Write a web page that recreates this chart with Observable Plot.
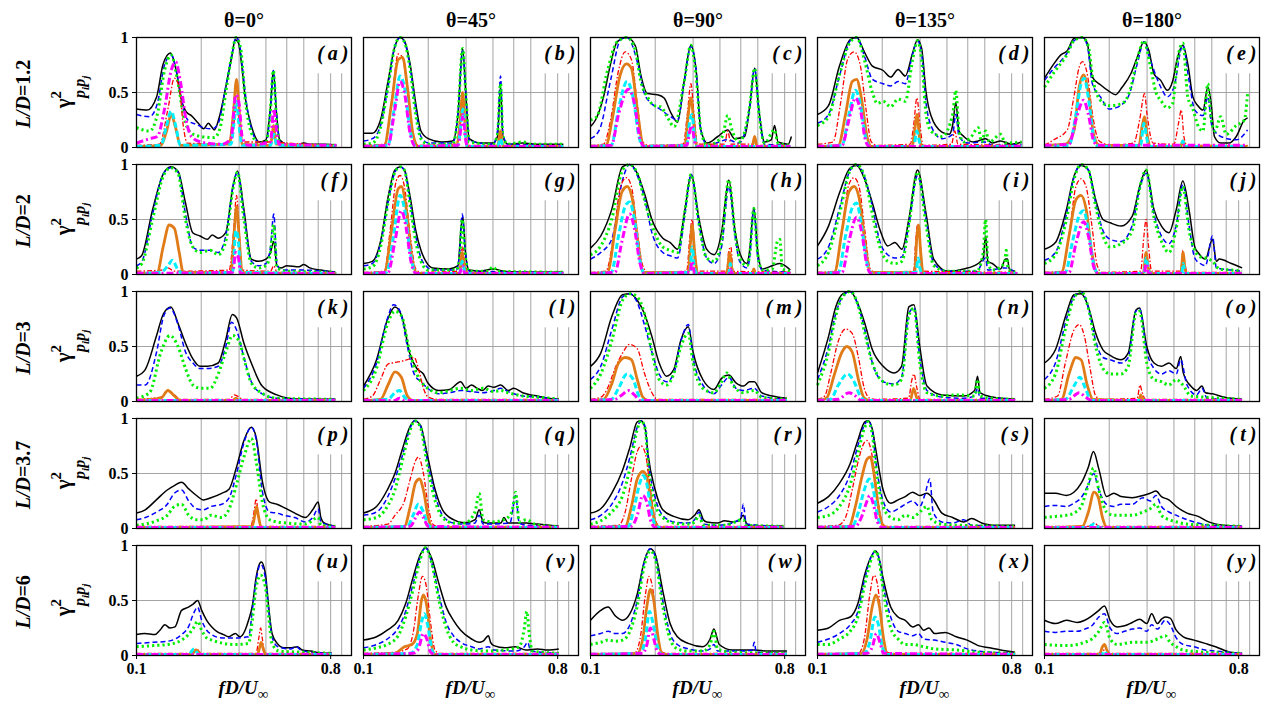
<!DOCTYPE html>
<html><head><meta charset="utf-8">
<script src="https://cdn.jsdelivr.net/npm/d3@7"></script>
<script src="https://cdn.jsdelivr.net/npm/@observablehq/plot@0.6"></script>
<style>
html,body{margin:0;padding:0;background:#fff;}
#chart{width:1264px;height:710px;}
#chart svg text, #chart svg tspan{font-family:"Liberation Serif","Times New Roman",serif !important;font-weight:bold;}
</style></head><body><div id="chart"></div>
<script>
// ---------- categories / labels ----------
const thetas = ["0", "45", "90", "135", "180"];
const ratios = ["1.2", "2", "3", "3.7", "6"];
const panelLetters = ["a","b","c","d","e","f","g","h","i","j","k","l","m","n","o","p","q","r","s","t","u","v","w","x","y"];
const xTicks = [0.1, 0.8];
const yTicks = [0, 0.5, 1];
const yTickLabels = ["0", "0.5", "1"];
const gridFull = [0.2, 0.3, 0.4, 0.5, 0.6];
const gridShort = [0.7, 0.8, 0.9];

// ---------- series values: one flat [f, γ², f, γ², ...] list per panel (a..y) ----------
const black = [
 [0.1,.35,.112,.34,.124,.46,.133,.76,.144,.86,.153,.70,.162,.43,.171,.32,.18,.29,.194,.22,.205,.17,.216,.22,.223,.19,.23,.16,.243,.28,.262,.58,.277,.82,.288,.98,.298,.95,.308,.76,.32,.46,.343,.19,.374,.05,.40,.07,.42,.37,.433,.70,.448,.31,.463,.07,.5,.03,.55,.02,.6,.04,.65,.03,.75,.03,.85,.02],
 [0.1,.13,.11,.13,.12,.25,.13,.60,.14,.92,.148,1.0,.155,.97,.165,.75,.175,.40,.185,.15,.2,.08,.23,.05,.26,.06,.275,.30,.289,.90,.30,.45,.31,.08,.35,.04,.40,.04,.42,.10,.434,.55,.445,.10,.47,.03,.55,.04,.65,.03,.75,.03,.85,.03],
 [0.1,.19,.1055,.25,.115,.46,.124,.76,.133,.96,.148,1.0,.162,.92,.171,.67,.184,.49,.205,.48,.22,.45,.236,.32,.254,.23,.273,.61,.293,.93,.31,.70,.326,.16,.35,.04,.391,.10,.435,.16,.468,.08,.521,.10,.55,.37,.58,.72,.605,.37,.645,.05,.693,.07,.718,.20,.745,.05,.83,.03,.86,.10],
 [0.1,.30,.1125,.38,.1265,.74,.142,.98,.152,1.0,.166,.86,.18,.74,.202,.70,.219,.64,.237,.71,.256,.65,.277,.86,.292,.98,.305,.90,.32,.50,.337,.29,.379,.14,.41,.12,.425,.20,.44,.41,.455,.15,.479,.10,.53,.05,.559,.06,.605,.08,.65,.04,.71,.06,.8,.03,.89,.05],
 [0.1,.63,.1105,.76,.1188,.84,.1276,.88,.137,.99,.15,1.0,.158,.95,.167,.64,.182,.57,.2,.51,.214,.48,.23,.55,.252,.67,.27,.82,.29,.96,.306,.88,.323,.67,.347,.61,.373,.52,.394,.60,.416,.82,.44,.93,.464,.76,.49,.46,.517,.38,.546,.34,.575,.55,.596,.40,.617,.10,.66,.04,.72,.04,.78,.10,.85,.25,.88,.27],
 [0.1,.14,.1056,.17,.1188,.59,.1336,.92,.1446,.98,.156,.94,.169,.65,.1826,.38,.1975,.35,.2137,.32,.225,.36,.24,.33,.26,.38,.281,.80,.295,.94,.316,.59,.342,.14,.37,.12,.40,.14,.42,.20,.435,.30,.45,.08,.47,.06,.5,.08,.57,.07,.6,.09,.64,.06,.72,.04,.84,.02],
 [0.1,.10,.11,.12,.12,.30,.13,.70,.14,.95,.148,.98,.155,.95,.165,.70,.175,.40,.185,.22,.195,.12,.21,.06,.25,.05,.275,.08,.285,.45,.29,.52,.298,.20,.31,.04,.35,.03,.40,.05,.45,.03,.55,.02,.85,.02],
 [0.1,.24,.1116,.35,.1255,.59,.141,.98,.152,1.0,.165,.92,.178,.74,.193,.50,.217,.33,.235,.29,.254,.23,.275,.59,.294,.91,.32,.50,.347,.23,.376,.18,.407,.38,.44,.86,.47,.40,.494,.20,.535,.10,.55,.22,.575,.61,.60,.20,.63,.05,.70,.08,.76,.10,.85,.04],
 [0.1,.26,.1125,.44,.1265,.74,.142,.97,.152,.99,.166,.86,.18,.65,.195,.41,.212,.26,.229,.29,.247,.23,.266,.50,.292,.95,.32,.55,.347,.14,.404,.03,.479,.05,.559,.10,.59,.15,.605,.35,.62,.12,.65,.10,.71,.05,.75,.14,.765,.14,.78,.05,.83,.03],
 [0.1,.23,.1124,.29,.1265,.59,.137,.89,.148,.99,.16,.95,.173,.68,.187,.50,.202,.47,.227,.44,.256,.53,.277,.80,.297,.95,.323,.59,.35,.44,.379,.38,.41,.59,.44,.85,.47,.59,.5,.25,.518,.20,.56,.14,.605,.32,.63,.12,.65,.14,.74,.10,.83,.06],
 [0.1,.23,.1098,.29,.1236,.59,.1336,.80,.1446,.86,.156,.71,.169,.53,.1826,.39,.1975,.32,.2137,.32,.24,.35,.26,.56,.279,.79,.292,.76,.316,.53,.342,.35,.384,.14,.45,.06,.505,.03,.61,.02,.84,.02],
 [0.1,.14,.115,.38,.129,.74,.14,.86,.151,.77,.164,.44,.177,.30,.19,.25,.199,.17,.224,.10,.252,.11,.283,.18,.30,.12,.318,.15,.338,.12,.358,.10,.38,.14,.404,.13,.435,.15,.471,.10,.50,.12,.55,.08,.60,.06,.644,.05,.72,.03,.81,.02],
 [0.1,.32,.1116,.44,.1255,.77,.141,.97,.1526,.98,.165,.92,.178,.80,.193,.59,.2086,.35,.2254,.23,.2437,.29,.2634,.56,.285,.68,.30,.45,.333,.20,.375,.11,.407,.21,.44,.24,.475,.17,.514,.14,.55,.18,.578,.18,.625,.08,.70,.05,.82,.03],
 [0.1,.26,.1125,.59,.1216,.86,.1315,.98,.142,1.0,.154,.89,.166,.71,.18,.47,.202,.32,.227,.26,.246,.32,.266,.86,.281,.88,.299,.50,.323,.14,.379,.06,.479,.05,.538,.10,.555,.23,.57,.08,.65,.04,.83,.02],
 [0.1,.35,.1124,.47,.1265,.80,.137,.97,.148,.98,.16,.86,.173,.62,.187,.47,.202,.42,.227,.38,.245,.44,.266,.83,.277,.85,.299,.50,.323,.35,.35,.32,.379,.35,.41,.30,.43,.41,.442,.26,.479,.14,.51,.10,.54,.14,.56,.08,.605,.07,.68,.04,.83,.02],
 [0.1,.14,.1098,.17,.1236,.26,.139,.35,.15,.39,.162,.42,.175,.36,.19,.30,.205,.26,.222,.28,.249,.32,.27,.36,.292,.56,.316,.80,.342,.92,.361,.82,.384,.44,.416,.24,.45,.22,.486,.19,.545,.14,.61,.10,.66,.17,.70,.24,.72,.10,.746,.05,.84,.02],
 [0.1,.14,.115,.20,.129,.35,.14,.50,.151,.71,.164,.92,.1727,.98,.184,.94,.199,.65,.2156,.35,.2331,.17,.262,.08,.295,.05,.331,.08,.345,.17,.36,.06,.373,.05,.436,.05,.45,.10,.47,.05,.51,.05,.57,.05,.644,.04,.81,.02],
 [0.1,.14,.1116,.18,.1255,.32,.141,.53,.1526,.74,.165,.97,.172,.98,.18,.90,.185,.68,.2,.35,.2168,.17,.2437,.11,.2846,.08,.305,.12,.3197,.17,.335,.08,.347,.06,.39,.05,.42,.07,.456,.06,.49,.07,.514,.12,.53,.05,.555,.02,.79,.02],
 [0.1,.23,.1125,.29,.1265,.41,.142,.59,.154,.80,.166,.97,.172,.98,.18,.90,.187,.71,.202,.35,.219,.23,.237,.26,.256,.29,.277,.33,.299,.30,.323,.32,.335,.30,.35,.25,.379,.14,.425,.10,.479,.06,.52,.09,.58,.05,.65,.03,.83,.03],
 [0.1,.32,.1124,.32,.1265,.30,.137,.33,.148,.41,.16,.56,.169,.70,.179,.54,.1945,.29,.21,.32,.227,.29,.256,.28,.287,.30,.31,.32,.33,.34,.35,.29,.379,.26,.41,.20,.46,.14,.518,.11,.58,.06,.68,.03,.83,.02],
 [0.1,.19,.1093,.20,.1218,.19,.1285,.23,.1355,.28,.143,.25,.151,.26,.162,.41,.1744,.44,.184,.47,.1925,.50,.201,.41,.212,.32,.224,.26,.236,.22,.254,.19,.268,.17,.288,.20,.303,.17,.32,.23,.332,.32,.347,.47,.36,.71,.375,.84,.381,.85,.398,.74,.412,.44,.427,.20,.451,.11,.485,.07,.52,.07,.56,.08,.59,.05,.645,.04,.73,.02,.81,.02],
 [0.1,.14,.115,.17,.129,.23,.145,.32,.157,.47,.17,.71,.184,.92,.1945,.98,.207,.89,.2245,.65,.2425,.44,.262,.32,.283,.23,.318,.15,.345,.12,.36,.13,.381,.18,.39,.12,.404,.09,.455,.07,.51,.08,.57,.05,.644,.06,.72,.05,.81,.06],
 [0.1,.32,.1116,.41,.1207,.44,.1305,.36,.141,.32,.1526,.38,.165,.56,.178,.86,.1897,.97,.2,.92,.2168,.59,.2345,.29,.2535,.17,.285,.11,.333,.08,.36,.15,.375,.24,.397,.10,.456,.05,.5,.05,.578,.05,.67,.04,.82,.04],
 [0.1,.23,.1125,.25,.1265,.32,.142,.35,.154,.47,.166,.74,.18,.92,.187,.95,.195,.85,.202,.70,.219,.44,.237,.35,.256,.32,.277,.26,.295,.28,.311,.23,.33,.25,.35,.20,.393,.21,.442,.17,.497,.14,.559,.09,.63,.07,.71,.05,.83,.03],
 [0.1,.32,.1124,.29,.1265,.32,.142,.30,.154,.32,.166,.36,.179,.41,.19,.45,.202,.32,.218,.26,.236,.27,.256,.30,.277,.33,.299,.29,.315,.38,.335,.29,.35,.33,.364,.35,.384,.34,.41,.23,.442,.17,.496,.14,.558,.11,.625,.08,.73,.03,.83,.02]
];
const blue = [
 [0.1,.30,.115,.28,.125,.40,.135,.75,.145,.84,.155,.65,.165,.35,.175,.24,.19,.21,.205,.18,.225,.17,.24,.22,.26,.55,.28,.88,.29,1.0,.30,.96,.31,.75,.325,.40,.345,.15,.37,.05,.40,.05,.42,.35,.433,.70,.448,.30,.465,.05,.5,.02,.85,.02],
 [0.1,.06,.11,.08,.12,.20,.13,.55,.14,.92,.148,1.0,.155,.96,.165,.72,.175,.35,.185,.10,.2,.04,.26,.04,.275,.30,.289,.88,.30,.45,.31,.06,.40,.03,.42,.15,.434,.65,.445,.12,.47,.03,.85,.02],
 [0.1,.08,.11,.16,.124,.61,.138,.98,.148,1.0,.166,.76,.178,.49,.19,.41,.21,.35,.236,.28,.254,.25,.273,.60,.293,.92,.31,.70,.326,.16,.35,.02,.435,.07,.49,.04,.55,.36,.58,.72,.61,.30,.645,.03,.85,.02],
 [0.1,.22,.1125,.30,.1265,.65,.142,.97,.152,1.0,.166,.82,.18,.62,.202,.58,.219,.56,.237,.60,.256,.58,.277,.85,.292,.97,.305,.85,.32,.40,.337,.20,.379,.08,.425,.12,.44,.30,.455,.10,.5,.04,.6,.05,.65,.02,.89,.03],
 [0.1,.61,.1105,.72,.1276,.86,.137,.97,.15,1.0,.158,.93,.167,.58,.182,.46,.2,.35,.214,.36,.245,.46,.27,.76,.29,.96,.31,.80,.347,.55,.373,.46,.40,.55,.44,.93,.47,.61,.50,.34,.546,.29,.575,.46,.60,.20,.66,.10,.78,.07,.88,.16],
 [0.1,.08,.106,.12,.1188,.55,.1336,.92,.1446,.97,.156,.93,.169,.55,.1826,.25,.1975,.22,.22,.22,.24,.20,.26,.35,.281,.80,.295,.93,.316,.55,.342,.12,.37,.08,.40,.10,.42,.25,.435,.55,.45,.10,.47,.04,.6,.04,.84,.02],
 [0.1,.08,.11,.10,.12,.28,.13,.65,.14,.93,.148,.98,.155,.95,.165,.65,.175,.35,.185,.15,.195,.08,.21,.04,.27,.04,.28,.20,.288,.55,.296,.25,.31,.03,.85,.02],
 [0.1,.14,.1116,.20,.1255,.32,.141,.86,.152,1.0,.165,.90,.178,.70,.193,.38,.217,.20,.235,.17,.254,.15,.275,.55,.294,.91,.32,.45,.347,.15,.376,.10,.407,.25,.44,.80,.47,.35,.494,.12,.535,.06,.55,.15,.575,.59,.60,.15,.63,.04,.85,.02],
 [0.1,.14,.1125,.25,.1265,.60,.142,.95,.152,1.0,.166,.88,.18,.62,.195,.30,.212,.18,.229,.15,.247,.16,.266,.45,.292,.90,.32,.50,.347,.10,.40,.03,.55,.03,.605,.15,.62,.04,.75,.06,.83,.02],
 [0.1,.13,.1124,.20,.1265,.55,.137,.88,.148,1.0,.16,.95,.173,.65,.187,.40,.202,.32,.227,.30,.256,.45,.277,.78,.297,.92,.323,.55,.35,.35,.379,.28,.41,.45,.44,.82,.47,.45,.5,.15,.53,.10,.56,.08,.605,.35,.63,.06,.74,.04,.83,.03],
 [0.1,.15,.11,.15,.124,.45,.134,.78,.143,.85,.156,.70,.169,.45,.183,.35,.197,.30,.214,.30,.24,.32,.26,.50,.277,.72,.292,.65,.316,.40,.342,.18,.384,.07,.45,.03,.84,.02],
 [0.1,.12,.115,.35,.129,.75,.138,.88,.148,.82,.16,.50,.172,.25,.185,.18,.199,.12,.224,.07,.252,.08,.283,.10,.318,.09,.358,.08,.404,.10,.435,.12,.471,.09,.50,.07,.55,.05,.644,.04,.81,.02],
 [0.1,.20,.1116,.32,.1255,.65,.141,.95,.1526,.98,.165,.90,.178,.70,.193,.45,.2086,.25,.2254,.18,.2437,.25,.2634,.55,.285,.70,.30,.40,.333,.15,.375,.07,.407,.15,.44,.22,.475,.12,.514,.10,.578,.12,.625,.05,.82,.02],
 [0.1,.20,.1125,.50,.1216,.80,.1315,.96,.142,1.0,.154,.88,.166,.65,.18,.35,.202,.18,.227,.16,.246,.22,.266,.80,.281,.85,.299,.40,.323,.10,.379,.04,.479,.03,.538,.05,.555,.12,.57,.03,.65,.03,.83,.02],
 [0.1,.20,.1124,.35,.1265,.75,.137,.95,.148,1.0,.16,.85,.173,.55,.187,.40,.202,.38,.227,.35,.245,.40,.266,.82,.277,.84,.299,.45,.323,.30,.35,.25,.379,.28,.41,.25,.43,.38,.46,.15,.51,.06,.54,.12,.57,.03,.68,.02,.83,.02],
 [0.1,.08,.11,.10,.124,.15,.139,.22,.15,.32,.162,.35,.175,.25,.19,.18,.205,.17,.222,.20,.249,.22,.27,.28,.292,.50,.316,.78,.342,.92,.361,.80,.384,.35,.416,.15,.45,.14,.486,.12,.545,.10,.61,.06,.66,.10,.70,.18,.72,.06,.84,.02],
 [0.1,.12,.115,.15,.129,.28,.14,.45,.151,.65,.164,.90,.1727,.98,.184,.93,.199,.60,.2156,.30,.2331,.12,.262,.05,.295,.04,.33,.05,.345,.12,.36,.04,.48,.05,.51,.30,.53,.05,.57,.03,.81,.02],
 [0.1,.08,.1116,.12,.1255,.22,.141,.42,.1526,.65,.165,.92,.172,.98,.18,.92,.185,.65,.2,.28,.2168,.12,.2437,.06,.2846,.05,.305,.08,.3197,.15,.335,.04,.39,.03,.456,.05,.50,.10,.514,.22,.53,.04,.79,.02],
 [0.1,.15,.1125,.20,.1265,.30,.142,.50,.154,.75,.166,.95,.172,.98,.18,.88,.187,.60,.202,.25,.219,.15,.237,.18,.256,.22,.277,.25,.299,.20,.315,.30,.333,.45,.345,.15,.379,.06,.425,.05,.479,.08,.52,.03,.83,.02],
 [0.1,.20,.1124,.21,.1265,.20,.137,.23,.148,.28,.16,.40,.169,.50,.179,.35,.1945,.22,.21,.20,.227,.22,.256,.22,.287,.28,.31,.25,.33,.30,.35,.20,.379,.15,.41,.12,.46,.08,.518,.05,.58,.03,.83,.02],
 [0.1,.11,.12,.12,.14,.13,.162,.19,.1744,.26,.184,.38,.1925,.44,.201,.32,.212,.23,.224,.19,.25,.16,.288,.16,.332,.17,.347,.44,.36,.68,.378,.83,.398,.70,.412,.41,.427,.17,.455,.08,.52,.06,.555,.08,.58,.05,.645,.03,.81,.02],
 [0.1,.07,.115,.10,.129,.15,.145,.25,.157,.40,.17,.65,.184,.90,.1945,.98,.207,.85,.2245,.55,.2425,.30,.262,.18,.283,.12,.318,.08,.345,.06,.381,.08,.404,.05,.51,.04,.56,.08,.58,.12,.60,.04,.81,.02],
 [0.1,.18,.1116,.20,.1207,.22,.1305,.20,.141,.20,.1526,.28,.165,.50,.178,.85,.1897,.97,.2,.90,.2168,.50,.2345,.20,.2535,.10,.285,.06,.333,.04,.36,.06,.375,.10,.39,.04,.52,.04,.565,.05,.578,.12,.59,.03,.82,.02],
 [0.1,.12,.1125,.15,.1265,.20,.142,.28,.154,.40,.166,.70,.18,.92,.187,.95,.195,.85,.202,.65,.219,.35,.237,.22,.256,.20,.277,.18,.295,.20,.311,.15,.35,.14,.393,.12,.442,.10,.497,.06,.559,.04,.83,.02],
 [0.1,.22,.1124,.21,.1265,.22,.142,.22,.154,.24,.166,.27,.179,.35,.19,.38,.202,.25,.218,.20,.236,.22,.256,.24,.277,.25,.299,.22,.315,.28,.335,.24,.364,.32,.384,.28,.41,.16,.442,.10,.496,.08,.558,.05,.625,.04,.83,.02]
];
const green = [
 [0.1,.18,.115,.15,.125,.30,.135,.70,.145,.84,.155,.62,.165,.30,.18,.13,.2,.10,.23,.09,.245,.18,.26,.50,.28,.88,.29,1.0,.305,.90,.32,.45,.34,.15,.37,.04,.40,.05,.42,.35,.433,.70,.448,.25,.465,.04,.5,.02,.85,.02],
 [0.1,.03,.11,.04,.12,.18,.13,.55,.14,.92,.148,1.0,.155,.96,.165,.70,.175,.30,.185,.08,.2,.03,.26,.03,.275,.30,.289,.90,.30,.45,.31,.05,.40,.03,.42,.12,.434,.58,.445,.10,.47,.03,.55,.05,.6,.03,.85,.03],
 [0.1,.25,.107,.28,.12,.70,.133,.96,.148,1.0,.162,.88,.171,.61,.184,.46,.198,.38,.212,.37,.227,.28,.245,.19,.273,.60,.293,.93,.31,.65,.326,.16,.35,.02,.41,.10,.435,.29,.455,.16,.49,.05,.55,.37,.58,.72,.61,.28,.645,.04,.718,.16,.745,.04,.85,.02],
 [0.1,.20,.1125,.28,.1265,.66,.142,.96,.152,1.0,.166,.78,.18,.50,.19,.40,.202,.42,.219,.37,.237,.44,.256,.42,.277,.80,.292,.97,.305,.80,.32,.30,.337,.15,.379,.10,.425,.30,.44,.52,.455,.15,.479,.05,.52,.10,.559,.18,.58,.05,.605,.15,.63,.05,.71,.12,.75,.04,.89,.05],
 [0.1,.55,.1105,.68,.1276,.85,.137,.97,.15,1.0,.16,.92,.167,.65,.182,.43,.2,.38,.23,.40,.25,.52,.27,.80,.29,.97,.31,.75,.33,.50,.347,.43,.373,.36,.394,.40,.416,.80,.44,.95,.464,.46,.49,.35,.517,.20,.546,.15,.575,.58,.596,.26,.62,.15,.66,.28,.70,.12,.78,.20,.85,.25,.88,.49],
 [0.1,.06,.106,.10,.1188,.50,.1336,.90,.1446,.97,.156,.92,.169,.50,.1826,.25,.1975,.20,.22,.22,.24,.18,.26,.30,.281,.78,.295,.93,.316,.50,.342,.10,.37,.06,.40,.08,.42,.20,.435,.45,.45,.06,.5,.03,.84,.02],
 [0.1,.05,.11,.07,.12,.25,.13,.65,.14,.93,.148,.98,.155,.95,.165,.62,.175,.30,.185,.12,.2,.04,.27,.04,.28,.15,.288,.50,.296,.20,.31,.03,.38,.03,.40,.07,.42,.03,.85,.02],
 [0.1,.18,.1116,.26,.1255,.50,.141,.95,.152,1.0,.165,.92,.178,.68,.193,.45,.217,.25,.235,.22,.254,.20,.275,.58,.294,.91,.32,.45,.347,.15,.376,.12,.407,.30,.44,.86,.47,.38,.494,.15,.535,.08,.55,.18,.575,.60,.60,.18,.63,.04,.70,.05,.74,.30,.76,.32,.78,.05,.85,.03],
 [0.1,.08,.1125,.20,.1265,.55,.142,.95,.152,1.0,.166,.88,.18,.55,.195,.25,.212,.12,.229,.10,.247,.12,.266,.45,.292,.93,.32,.45,.347,.08,.40,.03,.55,.03,.59,.20,.605,.50,.62,.12,.65,.04,.74,.10,.755,.22,.77,.05,.83,.02],
 [0.1,.10,.1124,.18,.1265,.50,.137,.86,.148,1.0,.16,.95,.173,.62,.187,.35,.202,.25,.227,.28,.256,.40,.277,.78,.297,.95,.323,.52,.35,.30,.379,.20,.41,.42,.44,.80,.47,.40,.5,.22,.53,.16,.56,.15,.605,.12,.65,.05,.74,.04,.83,.03],
 [0.1,.03,.115,.08,.13,.45,.143,.60,.156,.50,.169,.30,.183,.15,.2,.12,.22,.12,.24,.25,.26,.45,.28,.60,.30,.55,.32,.35,.34,.18,.38,.08,.45,.03,.84,.02],
 [0.1,.10,.115,.30,.129,.70,.14,.82,.15,.78,.164,.45,.177,.25,.199,.12,.224,.08,.252,.10,.283,.12,.318,.10,.358,.12,.404,.09,.435,.10,.471,.08,.55,.05,.644,.04,.81,.02],
 [0.1,.12,.1116,.25,.1255,.55,.141,.92,.1526,.98,.165,.95,.178,.80,.193,.45,.2086,.20,.2254,.15,.2437,.25,.2634,.50,.285,.62,.30,.35,.333,.12,.375,.08,.407,.18,.43,.26,.46,.15,.514,.08,.578,.10,.625,.04,.82,.02],
 [0.1,.15,.1125,.45,.1216,.78,.1315,.96,.142,1.0,.154,.88,.166,.62,.18,.35,.202,.18,.227,.15,.246,.20,.266,.78,.281,.85,.299,.35,.323,.08,.379,.05,.45,.06,.538,.05,.555,.20,.57,.05,.65,.03,.83,.02],
 [0.1,.12,.1124,.25,.1265,.70,.137,.94,.148,1.0,.16,.85,.173,.50,.187,.30,.202,.25,.227,.25,.245,.32,.266,.80,.277,.82,.299,.35,.323,.20,.35,.18,.379,.15,.41,.20,.44,.15,.48,.05,.55,.04,.83,.02],
 [0.1,.03,.124,.07,.139,.12,.15,.20,.162,.22,.175,.12,.19,.08,.205,.08,.222,.12,.249,.10,.27,.18,.292,.40,.316,.65,.342,.82,.361,.60,.384,.25,.416,.08,.45,.06,.5,.05,.61,.04,.70,.10,.72,.03,.84,.02],
 [0.1,.08,.115,.10,.129,.20,.14,.35,.151,.60,.164,.88,.1727,.98,.184,.92,.199,.55,.2156,.25,.2331,.10,.262,.05,.295,.05,.33,.15,.345,.32,.36,.08,.40,.06,.45,.08,.49,.15,.51,.33,.53,.06,.57,.08,.644,.03,.81,.02],
 [0.1,.04,.1116,.07,.1255,.15,.141,.30,.1526,.55,.165,.90,.172,.98,.18,.90,.185,.60,.2,.22,.2168,.10,.2437,.05,.2846,.04,.305,.06,.3197,.12,.335,.03,.42,.03,.514,.08,.53,.03,.79,.02],
 [0.1,.10,.1125,.12,.1265,.20,.142,.40,.154,.68,.166,.92,.172,.97,.18,.85,.187,.55,.202,.20,.219,.10,.237,.08,.256,.12,.277,.10,.299,.15,.323,.20,.34,.08,.379,.04,.45,.03,.83,.02],
 [0.1,.10,.1124,.11,.1265,.12,.137,.14,.148,.20,.16,.40,.169,.55,.179,.35,.1945,.15,.21,.12,.227,.12,.256,.12,.287,.15,.31,.18,.33,.22,.35,.12,.379,.08,.41,.06,.46,.04,.58,.03,.83,.02],
 [0.1,.08,.12,.09,.14,.10,.162,.14,.1744,.19,.184,.25,.1925,.31,.201,.23,.212,.16,.224,.14,.254,.11,.288,.10,.332,.11,.347,.35,.36,.62,.378,.73,.398,.62,.412,.35,.427,.11,.46,.04,.59,.03,.81,.02],
 [0.1,.05,.115,.07,.129,.10,.145,.18,.157,.35,.17,.60,.184,.88,.1945,.98,.207,.85,.2245,.50,.2425,.25,.262,.12,.283,.08,.318,.05,.38,.04,.45,.05,.53,.08,.56,.25,.575,.40,.59,.20,.61,.04,.81,.02],
 [0.1,.10,.1116,.12,.1207,.14,.1305,.13,.141,.14,.1526,.22,.165,.45,.178,.82,.1897,.95,.2,.88,.2168,.45,.2345,.15,.2535,.06,.285,.04,.333,.04,.36,.10,.375,.22,.39,.06,.456,.03,.82,.02],
 [0.1,.10,.1125,.10,.1265,.15,.142,.22,.154,.35,.166,.65,.18,.90,.187,.95,.195,.82,.202,.60,.219,.25,.237,.15,.256,.10,.277,.10,.311,.08,.35,.06,.442,.05,.559,.03,.83,.02],
 [0.1,.10,.1265,.09,.142,.10,.154,.12,.166,.15,.179,.22,.19,.30,.202,.15,.218,.10,.256,.12,.299,.12,.335,.15,.364,.18,.384,.12,.41,.08,.442,.05,.558,.03,.83,.02]
];
const red = [
 [0.1,.02,.128,.03,.14,.35,.15,.63,.158,.55,.165,.20,.172,.04,.26,.03,.28,.15,.292,.36,.30,.25,.31,.05,.42,.05,.433,.20,.445,.05,.85,.02],
 [0.1,.02,.125,.03,.135,.40,.145,.85,.152,.82,.16,.50,.17,.10,.18,.02,.27,.03,.282,.25,.289,.50,.297,.20,.305,.02,.42,.02,.434,.15,.445,.02,.85,.02],
 [0.1,.02,.115,.03,.124,.25,.135,.70,.145,.87,.155,.80,.165,.40,.175,.05,.185,.02,.27,.03,.282,.30,.293,.58,.303,.30,.315,.03,.42,.03,.435,.15,.45,.03,.565,.03,.58,.10,.595,.02,.85,.02],
 [0.1,.03,.118,.05,.128,.40,.138,.80,.148,.87,.158,.75,.168,.35,.178,.05,.19,.02,.27,.03,.28,.20,.29,.45,.30,.20,.31,.02,.42,.03,.435,.15,.45,.03,.89,.02],
 [0.1,.02,.1105,.07,.1276,.16,.137,.46,.145,.73,.15,.78,.158,.67,.167,.31,.178,.07,.187,.04,.2,.02,.26,.04,.277,.25,.292,.49,.30,.30,.32,.04,.40,.03,.42,.22,.433,.34,.445,.10,.46,.02,.88,.02],
 [0.1,.03,.13,.04,.14,.06,.15,.03,.27,.04,.283,.40,.292,.72,.30,.40,.31,.04,.42,.03,.435,.08,.45,.02,.85,.02],
 [0.1,.02,.125,.03,.133,.40,.142,.85,.148,.90,.155,.80,.165,.35,.175,.05,.185,.02,.28,.03,.288,.25,.296,.10,.305,.02,.85,.02],
 [0.1,.02,.118,.03,.128,.35,.138,.80,.147,.88,.155,.80,.165,.40,.175,.08,.185,.02,.28,.03,.29,.35,.297,.50,.305,.25,.315,.03,.43,.03,.44,.22,.45,.25,.46,.03,.85,.02],
 [0.1,.02,.12,.03,.13,.40,.14,.82,.148,.88,.156,.80,.166,.40,.176,.05,.185,.02,.28,.03,.286,.30,.292,.45,.30,.30,.31,.03,.85,.02],
 [0.1,.02,.12,.03,.13,.35,.14,.80,.148,.87,.156,.80,.166,.45,.176,.08,.185,.02,.28,.03,.29,.35,.297,.50,.305,.25,.315,.03,.43,.03,.44,.22,.45,.10,.46,.02,.83,.02],
 [0.1,.02,.13,.04,.14,.10,.15,.06,.16,.02,.27,.02,.285,.06,.30,.04,.31,.02,.84,.02],
 [0.1,.02,.11,.05,.12,.20,.13,.34,.145,.36,.16,.38,.172,.40,.18,.30,.19,.12,.2,.04,.22,.02,.81,.02],
 [0.1,.02,.112,.04,.12,.12,.13,.30,.141,.44,.152,.52,.165,.48,.178,.26,.193,.08,.205,.02,.82,.02],
 [0.1,.02,.108,.05,.115,.25,.125,.55,.135,.66,.145,.62,.155,.40,.165,.12,.175,.03,.185,.02,.265,.03,.275,.20,.281,.25,.29,.12,.30,.02,.83,.02],
 [0.1,.02,.115,.05,.125,.35,.137,.65,.145,.70,.153,.60,.163,.30,.173,.05,.183,.02,.27,.03,.278,.15,.285,.08,.295,.02,.83,.02],
 [0.1,.02,.34,.02,.352,.15,.36,.27,.37,.10,.38,.02,.84,.02],
 [0.1,.02,.13,.04,.14,.12,.155,.25,.165,.45,.175,.62,.18,.65,.19,.50,.2,.20,.21,.04,.22,.02,.81,.02],
 [0.1,.02,.135,.03,.145,.15,.155,.45,.165,.70,.172,.75,.18,.68,.19,.35,.2,.08,.21,.02,.79,.02],
 [0.1,.02,.125,.03,.135,.10,.145,.35,.155,.62,.165,.78,.17,.80,.178,.70,.187,.40,.197,.10,.207,.02,.83,.02],
 [0.1,.02,.16,.02,.17,.05,.18,.02,.83,.02],
 [0.1,.02,.18,.02,.19,.06,.2,.02,.36,.02,.37,.15,.378,.25,.385,.15,.395,.02,.81,.02],
 [0.1,.02,.14,.03,.16,.06,.17,.20,.18,.55,.188,.72,.195,.65,.205,.30,.215,.05,.225,.02,.81,.02],
 [0.1,.02,.16,.02,.17,.15,.18,.55,.187,.72,.195,.60,.205,.20,.215,.03,.225,.02,.82,.02],
 [0.1,.02,.155,.02,.165,.15,.175,.55,.183,.73,.19,.65,.2,.25,.21,.03,.22,.02,.83,.02],
 [0.1,.02,.18,.02,.19,.05,.2,.02,.83,.02]
];
const orange = [
 [0.1,.01,.13,.02,.138,.15,.145,.30,.152,.18,.16,.02,.27,.03,.282,.30,.292,.62,.30,.35,.31,.03,.42,.02,.435,.20,.445,.03,.85,.01],
 [0.1,.01,.125,.02,.135,.40,.145,.80,.152,.82,.16,.55,.17,.12,.18,.01,.27,.02,.282,.25,.289,.50,.297,.20,.305,.01,.42,.01,.434,.15,.445,.01,.85,.01],
 [0.1,.01,.118,.02,.126,.25,.137,.65,.147,.76,.155,.72,.165,.35,.175,.03,.18,.01,.275,.02,.285,.30,.293,.45,.302,.25,.312,.01,.565,.01,.58,.10,.595,.01,.85,.01],
 [0.1,.01,.125,.02,.135,.30,.145,.60,.152,.62,.16,.45,.17,.10,.178,.01,.275,.01,.285,.20,.29,.30,.298,.10,.305,.01,.89,.01],
 [0.1,.02,.125,.03,.137,.15,.145,.55,.152,.66,.16,.50,.17,.10,.18,.02,.275,.02,.285,.20,.292,.28,.30,.12,.31,.01,.43,.01,.44,.06,.45,.01,.88,.01],
 [0.1,.01,.125,.02,.133,.25,.142,.45,.15,.42,.158,.20,.165,.02,.275,.02,.285,.40,.292,.62,.30,.35,.31,.02,.85,.01],
 [0.1,.01,.125,.02,.135,.40,.145,.78,.15,.80,.158,.60,.168,.15,.178,.01,.28,.01,.288,.20,.296,.05,.305,.01,.85,.01],
 [0.1,.01,.12,.02,.13,.40,.14,.75,.148,.80,.156,.70,.166,.30,.176,.02,.285,.02,.292,.30,.297,.45,.305,.20,.315,.01,.43,.01,.445,.20,.455,.05,.465,.01,.565,.01,.575,.05,.585,.01,.85,.01],
 [0.1,.01,.12,.02,.13,.40,.14,.75,.148,.80,.156,.70,.166,.30,.176,.02,.283,.02,.29,.35,.295,.45,.302,.20,.31,.01,.85,.01],
 [0.1,.01,.12,.02,.13,.35,.14,.68,.148,.72,.156,.60,.166,.20,.176,.01,.288,.01,.297,.20,.305,.05,.315,.01,.43,.01,.442,.20,.45,.05,.46,.01,.83,.01],
 [0.1,.01,.13,.03,.14,.10,.15,.05,.16,.01,.28,.01,.29,.03,.30,.01,.84,.01],
 [0.1,.01,.12,.02,.13,.15,.14,.27,.15,.22,.16,.05,.17,.01,.81,.01],
 [0.1,.01,.115,.02,.125,.15,.135,.35,.145,.40,.155,.38,.165,.20,.175,.04,.185,.01,.82,.01],
 [0.1,.01,.11,.03,.12,.25,.13,.45,.137,.50,.145,.45,.155,.20,.165,.03,.175,.01,.27,.01,.28,.12,.29,.03,.30,.01,.83,.01],
 [0.1,.01,.12,.02,.13,.25,.14,.40,.148,.38,.158,.15,.168,.02,.275,.01,.28,.06,.29,.01,.83,.01],
 [0.1,.01,.345,.02,.355,.12,.362,.20,.37,.10,.38,.01,.84,.01],
 [0.1,.01,.155,.02,.165,.20,.175,.42,.182,.45,.19,.35,.2,.10,.21,.01,.81,.01],
 [0.1,.01,.145,.02,.155,.20,.165,.45,.175,.52,.182,.48,.19,.28,.2,.05,.21,.01,.79,.01],
 [0.1,.01,.14,.02,.15,.20,.16,.45,.17,.63,.176,.65,.183,.50,.19,.25,.2,.04,.21,.01,.83,.01],
 [0.1,.01,.15,.02,.16,.15,.17,.33,.178,.28,.186,.10,.195,.01,.83,.01],
 [0.1,.01,.18,.01,.19,.05,.2,.01,.365,.01,.375,.08,.38,.12,.39,.05,.4,.01,.81,.01],
 [0.1,.01,.14,.02,.155,.08,.168,.10,.178,.20,.186,.50,.19,.55,.197,.45,.205,.15,.215,.01,.81,.01],
 [0.1,.01,.165,.02,.175,.15,.183,.45,.19,.60,.197,.50,.205,.20,.215,.02,.225,.01,.82,.01],
 [0.1,.01,.16,.02,.17,.15,.18,.45,.187,.55,.194,.45,.203,.15,.212,.01,.83,.01],
 [0.1,.01,.18,.01,.186,.08,.19,.10,.195,.05,.2,.01,.83,.01]
];
const cyan = [
 [0.1,.01,.13,.02,.138,.20,.145,.33,.152,.20,.16,.02,.275,.03,.285,.25,.292,.42,.30,.20,.31,.02,.42,.02,.435,.12,.45,.02,.85,.01],
 [0.1,.01,.13,.02,.14,.40,.148,.65,.155,.55,.165,.15,.175,.01,.275,.02,.285,.25,.29,.35,.298,.10,.305,.01,.42,.01,.434,.08,.445,.01,.85,.01],
 [0.1,.01,.125,.02,.135,.35,.148,.60,.158,.45,.168,.10,.175,.01,.28,.02,.29,.25,.296,.30,.305,.10,.312,.01,.85,.01],
 [0.1,.01,.13,.02,.14,.30,.15,.52,.158,.40,.168,.08,.175,.01,.28,.01,.29,.15,.298,.05,.305,.01,.89,.01],
 [0.1,.01,.13,.02,.14,.30,.148,.58,.153,.63,.16,.45,.17,.08,.178,.01,.28,.02,.29,.22,.298,.10,.305,.01,.43,.01,.44,.06,.45,.01,.88,.01],
 [0.1,.01,.13,.02,.14,.08,.147,.13,.155,.05,.165,.01,.28,.02,.29,.40,.298,.30,.305,.02,.85,.01],
 [0.1,.01,.128,.02,.138,.35,.148,.72,.155,.60,.165,.20,.175,.01,.28,.01,.288,.12,.296,.03,.305,.01,.85,.01],
 [0.1,.01,.125,.02,.135,.35,.145,.62,.152,.66,.16,.50,.17,.12,.178,.01,.29,.02,.297,.25,.305,.05,.315,.01,.44,.01,.447,.10,.455,.01,.85,.01],
 [0.1,.01,.125,.02,.135,.35,.146,.62,.152,.65,.16,.45,.17,.10,.178,.01,.287,.02,.294,.15,.30,.05,.308,.01,.85,.01],
 [0.1,.01,.125,.02,.135,.30,.146,.55,.152,.58,.16,.40,.17,.08,.178,.01,.29,.01,.297,.15,.305,.03,.315,.01,.435,.01,.442,.10,.45,.01,.83,.01],
 [0.1,.01,.84,.01],
 [0.1,.01,.13,.02,.14,.08,.147,.10,.155,.04,.165,.01,.81,.01],
 [0.1,.01,.125,.02,.135,.12,.148,.25,.158,.20,.168,.05,.178,.01,.82,.01],
 [0.1,.01,.115,.02,.125,.15,.138,.25,.148,.18,.158,.05,.168,.01,.83,.01],
 [0.1,.01,.125,.02,.138,.15,.146,.22,.155,.12,.165,.01,.83,.01],
 [0.1,.01,.84,.01],
 [0.1,.01,.16,.02,.17,.12,.18,.22,.19,.15,.2,.03,.21,.01,.81,.01],
 [0.1,.01,.15,.02,.16,.20,.17,.42,.176,.48,.183,.40,.19,.20,.2,.03,.21,.01,.79,.01],
 [0.1,.01,.145,.02,.155,.15,.165,.35,.174,.45,.182,.35,.19,.12,.2,.01,.83,.01],
 [0.1,.01,.16,.01,.17,.04,.18,.01,.83,.01],
 [0.1,.01,.175,.01,.185,.06,.195,.01,.81,.01],
 [0.1,.01,.165,.02,.178,.10,.186,.30,.192,.38,.2,.25,.21,.03,.22,.01,.81,.01],
 [0.1,.01,.17,.02,.18,.15,.188,.40,.195,.30,.205,.08,.215,.01,.82,.01],
 [0.1,.01,.165,.02,.175,.12,.185,.35,.192,.28,.2,.08,.21,.01,.83,.01],
 [0.1,.01,.185,.01,.19,.04,.195,.01,.83,.01]
];
const magenta = [
 [0.1,.04,.115,.08,.125,.10,.135,.35,.145,.70,.152,.78,.16,.60,.17,.25,.18,.10,.2,.05,.25,.03,.275,.08,.29,.48,.30,.40,.31,.10,.33,.02,.42,.05,.435,.35,.445,.20,.46,.03,.85,.02],
 [0.1,.01,.13,.02,.14,.35,.148,.60,.155,.50,.165,.12,.175,.01,.275,.02,.285,.20,.29,.30,.298,.08,.305,.01,.85,.01],
 [0.1,.01,.125,.02,.135,.30,.15,.53,.16,.40,.17,.08,.178,.01,.28,.02,.29,.15,.296,.20,.305,.05,.312,.01,.85,.01],
 [0.1,.01,.13,.02,.14,.25,.15,.45,.158,.35,.168,.05,.175,.01,.89,.01],
 [0.1,.02,.13,.03,.14,.25,.152,.43,.16,.30,.17,.05,.178,.02,.88,.02],
 [0.1,.01,.28,.02,.29,.20,.298,.15,.305,.01,.85,.01],
 [0.1,.01,.13,.02,.14,.30,.15,.58,.157,.45,.167,.10,.175,.01,.28,.01,.288,.08,.296,.01,.85,.01],
 [0.1,.01,.13,.02,.14,.30,.152,.55,.16,.42,.17,.10,.178,.01,.29,.02,.297,.12,.305,.01,.44,.01,.447,.05,.455,.01,.85,.01],
 [0.1,.01,.13,.02,.14,.30,.152,.52,.16,.40,.17,.08,.178,.01,.85,.01],
 [0.1,.01,.13,.02,.14,.28,.152,.48,.16,.35,.17,.06,.178,.01,.29,.01,.298,.10,.305,.01,.83,.01],
 [0.1,.01,.84,.01],
 [0.1,.01,.14,.01,.147,.03,.155,.01,.81,.01],
 [0.1,.01,.13,.02,.14,.06,.15,.10,.16,.06,.17,.01,.82,.01],
 [0.1,.01,.125,.02,.14,.08,.15,.05,.16,.01,.83,.01],
 [0.1,.01,.13,.02,.145,.08,.155,.04,.165,.01,.83,.01],
 [0.1,.01,.84,.01],
 [0.1,.01,.165,.02,.175,.10,.182,.15,.19,.10,.2,.02,.81,.01],
 [0.1,.01,.155,.02,.165,.12,.175,.30,.182,.25,.19,.08,.2,.01,.79,.01],
 [0.1,.01,.15,.02,.16,.10,.17,.25,.175,.30,.182,.22,.19,.06,.2,.01,.83,.01],
 [0.1,.01,.83,.01],
 [0.1,.01,.81,.01],
 [0.1,.01,.17,.02,.18,.06,.19,.20,.197,.15,.205,.03,.215,.01,.81,.01],
 [0.1,.01,.175,.02,.183,.10,.19,.25,.197,.15,.205,.03,.215,.01,.82,.01],
 [0.1,.01,.17,.02,.18,.08,.188,.20,.195,.12,.203,.02,.83,.01],
 [0.1,.01,.83,.01]
];

// ---------- build table ----------
const seriesDefs = [
  {name: "black",   data: black,   stroke: "#000000", width: 1.5, dash: null},
  {name: "blue",    data: blue,    stroke: "#0000ff", width: 1.5, dash: "5,3"},
  {name: "green",   data: green,   stroke: "#00ee00", width: 3,   dash: "2.2,3"},
  {name: "red",     data: red,     stroke: "#ff0000", width: 1.3, dash: "5,2,1.5,2"},
  {name: "orange",  data: orange,  stroke: "#e07b18", width: 2.8, dash: null},
  {name: "cyan",    data: cyan,    stroke: "#00f0ff", width: 3,   dash: "6,3"},
  {name: "magenta", data: magenta, stroke: "#ff00ff", width: 3,   dash: "7,3,2,3"}
];
const rows = [];
seriesDefs.forEach(s => s.data.forEach((flat, p) => {
  let last = -Infinity;
  for (let k = 0; k < flat.length; k += 2) {
    const f = flat[k], y = flat[k + 1];
    if (!(f > last)) continue;
    last = f;
    rows.push({series: s.name, theta: thetas[p % 5], ratio: ratios[Math.floor(p / 5)], f, y});
  }
}));

const font = "'Liberation Serif', 'Times New Roman', serif";
const lineMarks = seriesDefs.map(s => Plot.line(rows.filter(r => r.series === s.name), {
  x: "f", y: "y", fx: "theta", fy: "ratio",
  stroke: s.stroke, strokeWidth: s.width, strokeDasharray: s.dash,
  strokeLinecap: "butt", strokeLinejoin: "round", curve: "monotone-x"
}));

const plot = Plot.plot({
  width: 1264, height: 710,
  marginLeft: 136, marginRight: 5, marginTop: 37, marginBottom: 55,
  style: {fontFamily: font, fontSize: "16px", fontWeight: "bold", background: "#fff", color: "#000", overflow: "visible"},
  x: {type: "log", domain: [0.1, 1]},
  y: {domain: [0, 1]},
  fx: {domain: thetas, paddingInner: 12 / 227, paddingOuter: 0, axis: null, label: null},
  fy: {domain: ratios, paddingInner: 17 / 127, paddingOuter: 0, axis: null, label: null},
  marks: [
    Plot.ruleY([0.5], {stroke: "#9a9a9a", strokeWidth: 0.9}),
    Plot.ruleX(gridFull, {stroke: "#9a9a9a", strokeWidth: 0.9}),
    Plot.ruleX(gridShort, {y1: 0, y2: 0.67, stroke: "#9a9a9a", strokeWidth: 0.9}),
    ...lineMarks,
    Plot.frame({stroke: "#000", strokeWidth: 1.3}),
    Plot.axisX({ticks: xTicks, tickFormat: d => String(d), tickSize: 4, tickPadding: 3, label: null, fontSize: 16, fontFamily: font}),
    Plot.axisY({ticks: yTicks, tickFormat: d => yTickLabels[yTicks.indexOf(d)], tickSize: 4, tickPadding: 4, label: null, fontSize: 16, fontFamily: font}),
    Plot.text(panelLetters, {
      fx: (d, i) => thetas[i % 5], fy: (d, i) => ratios[Math.floor(i / 5)],
      text: d => "(\u2009" + d + "\u2009)", frameAnchor: "top-right", dx: -3, dy: 8,
      fontSize: 20, fontStyle: "italic", fontWeight: "bold", fontFamily: font, fill: "#000"
    }),
    Plot.text(thetas, {
      fx: d => d, fy: () => ratios[0], text: d => "θ=" + d + "°",
      frameAnchor: "top", lineAnchor: "bottom", dy: -11, fontSize: 20, fontWeight: "bold", fontFamily: font, fill: "#000"
    })
  ]
});
document.getElementById("chart").appendChild(plot);

// ---------- rich-text labels (row labels, y labels, x labels) ----------
const colLeft = i => 136 + i * 227, panelW = 215;
const rowTop = j => 37 + j * 127, panelH = 110;
const g = d3.select(plot).append("g").attr("font-family", font).attr("font-weight", "bold").attr("fill", "#000");
ratios.forEach((r, j) => {
  const cy = rowTop(j) + panelH / 2;
  const t = g.append("text").attr("transform", `translate(30,${cy + 2}) rotate(-90)`).attr("text-anchor", "middle").attr("font-size", 20);
  t.append("tspan").attr("font-style", "italic").text("L/D");
  t.append("tspan").text("=" + r);
  const gy = g.append("text").attr("transform", `translate(70,${cy}) rotate(-90)`).attr("text-anchor", "middle").attr("font-size", 21);
  gy.append("tspan").text("γ");
  gy.append("tspan").attr("font-size", 15).attr("dy", -9).text("2");
  gy.append("tspan").attr("font-size", 16).attr("font-style", "italic").attr("dx", -7).attr("dy", 24).text("p");
  gy.append("tspan").attr("font-size", 11).attr("font-style", "italic").attr("dy", 4).text("i");
  gy.append("tspan").attr("font-size", 16).attr("font-style", "italic").attr("dy", -4).text("p");
  gy.append("tspan").attr("font-size", 11).attr("font-style", "italic").attr("dy", 4).text("j");
});
thetas.forEach((t, i) => {
  const cx = colLeft(i) + panelW / 2;
  const tx = g.append("text").attr("x", cx).attr("y", 694).attr("text-anchor", "middle").attr("font-size", 19).attr("font-style", "italic");
  tx.append("tspan").text("fD/U");
  tx.append("tspan").attr("font-size", 15).attr("dy", 5).text("∞");
});
// force the serif face on every text node (inline style wins over Plot's class styles)
d3.select(plot).selectAll("text, tspan").style("font-family", font).style("font-weight", "bold");
</script></body></html>
